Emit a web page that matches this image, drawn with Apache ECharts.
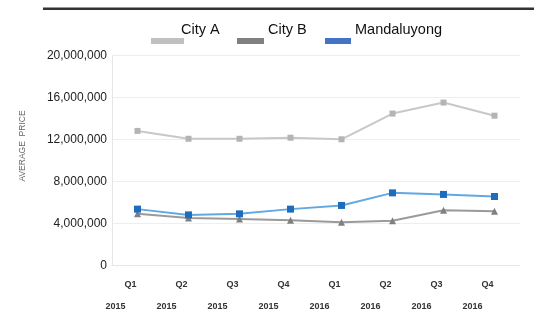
<!DOCTYPE html>
<html><head><meta charset="utf-8">
<script src="https://cdn.jsdelivr.net/npm/echarts@6/dist/echarts.min.js"></script>
<style>html,body{margin:0;padding:0;background:#fff}#c{width:556px;height:325px}</style>
</head><body><div id="c"></div>
<script>
var quarters = ['Q1','Q2','Q3','Q4','Q1','Q2','Q3','Q4'];
var years = ['2015','2015','2015','2015','2016','2016','2016','2016'];
var cityA = [12800000, 12050000, 12050000, 12150000, 12000000, 14450000, 15500000, 14250000];
var cityB = [4900000, 4500000, 4400000, 4300000, 4100000, 4250000, 5250000, 5150000];
var mandaluyong = [5350000, 4800000, 4900000, 5350000, 5700000, 6900000, 6750000, 6550000];
var yTicks = [0, 4000000, 8000000, 12000000, 16000000, 20000000];

var chart = echarts.init(document.getElementById('c'), null, {renderer:'canvas'});
var font = 'Liberation Sans, Arial, sans-serif';
var narrow = 'Liberation Sans Narrow, Arial Narrow, Liberation Sans, sans-serif';
function legend(name, color, left, w, padLeft){
  return {data:[{name:name, icon:'rect', itemStyle:{color:color}}], left:left, top:22.5, padding:0,
    itemWidth:w, itemHeight:6, formatter:'{t|{name}}',
    textStyle:{rich:{t:{fontFamily:font, fontSize:14.5, color:'#111', padding:[0,0,22,padLeft]}}}};
}
chart.setOption({
  animation:false,
  graphic:[
    {type:'rect', shape:{x:43, y:7.5, width:491, height:2.5}, style:{fill:'#333'}},
    {type:'text', x:23, y:146, rotation:Math.PI/2, style:{text:'AVERAGE  PRICE', fill:'#666', font:'8.5px ' + font, textAlign:'center', textVerticalAlign:'middle'}}
  ],
  legend:[legend('City A','#c0c0c0',151,33,-8), legend('City B','#808080',237,27,-1), legend('Mandaluyong','#4472c4',325,26,-1)],
  grid:{left:112, right:36, top:55.3, bottom:59.7},
  xAxis:[
    {type:'category', data:quarters, boundaryGap:true,
     axisLine:{show:true, lineStyle:{color:'#e6e6e6'}}, axisTick:{show:false},
     axisLabel:{margin:15, fontFamily:narrow, fontSize:9, fontWeight:'bold', color:'#333', padding:[0,14,0,0]}},
    {type:'category', data:years, position:'bottom', boundaryGap:true,
     axisLine:{show:false}, axisTick:{show:false},
     axisLabel:{margin:36.5, fontFamily:narrow, fontSize:9, fontWeight:'bold', color:'#333', padding:[0,44,0,0]}}
  ],
  yAxis:{type:'value', min:yTicks[0], max:yTicks[yTicks.length-1], interval:yTicks[1]-yTicks[0],
    axisLine:{show:true, lineStyle:{color:'#e6e6e6'}}, axisTick:{show:false},
    splitLine:{lineStyle:{color:'#eeeeee'}},
    axisLabel:{margin:5, fontFamily:font, fontSize:12, color:'#222', formatter:function(v){return v.toLocaleString('en-US');}}},
  series:[
    {name:'City A', type:'line', data:cityA, symbol:'rect', symbolSize:6,
     lineStyle:{color:'#c8c8c8', width:2}, itemStyle:{color:'#b4b4b4'}},
    {name:'City B', type:'line', data:cityB, symbol:'triangle', symbolSize:7,
     lineStyle:{color:'#9a9a9a', width:2}, itemStyle:{color:'#808080'}},
    {name:'Mandaluyong', type:'line', data:mandaluyong, symbol:'rect', symbolSize:7,
     lineStyle:{color:'#62a8e2', width:2}, itemStyle:{color:'#1e6cbc'}}
  ]
});
</script></body></html>
